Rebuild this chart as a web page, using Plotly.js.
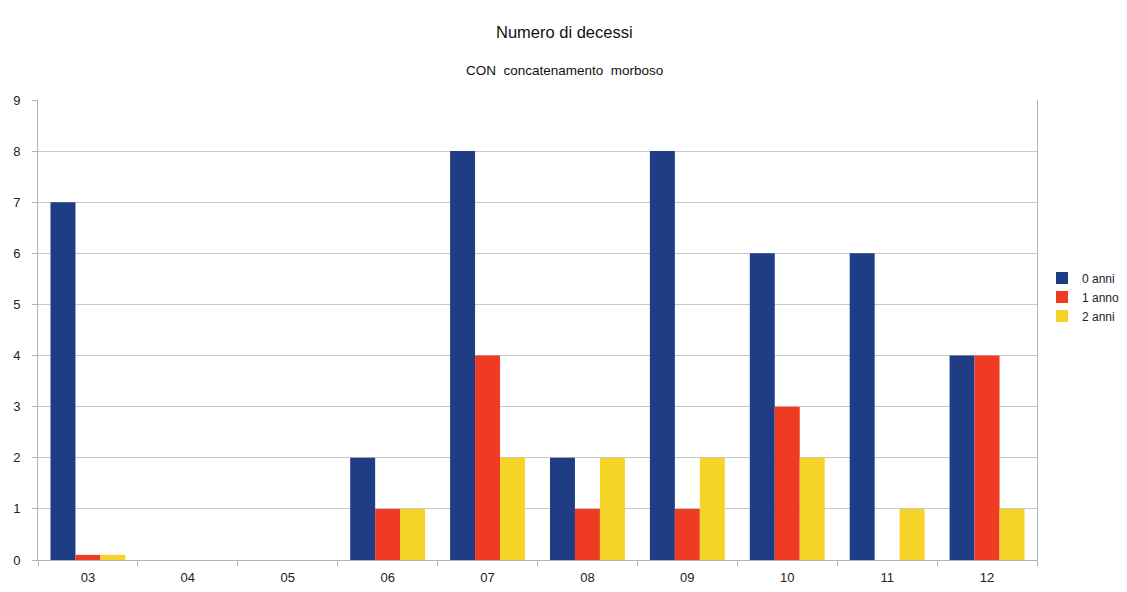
<!DOCTYPE html>
<html>
<head>
<meta charset="utf-8">
<script src="https://cdn.plot.ly/plotly-3.0.1.min.js"></script>
<style>html,body{margin:0;padding:0;background:#fff;}#chart{width:1127px;height:592px;}</style>
</head>
<body>
<div id="chart"></div>
<script>
const categories = ["03", "04", "05", "06", "07", "08", "09", "10", "11", "12"];
const anni0 = [7, 0, 0, 2, 8, 2, 8, 6, 6, 4];
const anno1 = [0.1, 0, 0, 1, 4, 1, 1, 3, 0, 4];
const anni2 = [0.1, 0, 0, 1, 2, 2, 2, 2, 1, 1];
const seriesNames = ["0 anni", "1 anno", "2 anni"];
const colors = ["#1f3d85", "#f03b23", "#f5d327"];

const data = [anni0, anno1, anni2].map((vals, i) => ({
  type: "bar",
  x: categories,
  y: vals,
  name: seriesNames[i],
  marker: {color: colors[i], line: {width: 0}},
  hoverinfo: "x+y+name"
}));

const layout = {
  width: 1127,
  height: 592,
  margin: {l: 38, r: 90, t: 100, b: 32, autoexpand: false},
  paper_bgcolor: "#ffffff",
  plot_bgcolor: "#ffffff",
  font: {family: "Liberation Sans, Arial, sans-serif", size: 12, color: "#222"},
  barmode: "group",
  bargap: 0.25,
  bargroupgap: 0,
  showlegend: true,
  legend: {xref: "container", yref: "container", x: 1042 / 1127, y: 1 - 297 / 592, yanchor: "middle", xanchor: "left", font: {size: 12, color: "#222"}, tracegroupgap: 0, itemwidth: 30},
  xaxis: {
    type: "category",
    tickson: "boundaries",
    ticks: "outside",
    ticklen: 5,
    tickcolor: "#b3b3b3",
    showline: true,
    linecolor: "#b3b3b3",
    linewidth: 1,
    showgrid: false,
    tickfont: {size: 13, color: "#222"},
    ticklabelstandoff: 5,
    fixedrange: true
  },
  yaxis: {
    range: [0, 9],
    dtick: 1,
    ticks: "outside",
    ticklen: 5,
    tickcolor: "#b3b3b3",
    showline: true,
    mirror: true,
    linecolor: "#b3b3b3",
    linewidth: 1,
    gridcolor: "#c8c8c8",
    zeroline: false,
    tickfont: {size: 13, color: "#222"},
    ticklabelstandoff: 9,
    fixedrange: true
  },
  annotations: [
    {text: "Numero di decessi", xref: "paper", yref: "paper", x: 0.527, y: 1, yshift: 68, xanchor: "center", yanchor: "middle", showarrow: false, font: {size: 16.5, color: "#111"}},
    {text: "CON  concatenamento  morboso", xref: "paper", yref: "paper", x: 0.527, y: 1, yshift: 30, xanchor: "center", yanchor: "middle", showarrow: false, font: {size: 13.5, color: "#111"}}
  ]
};

Plotly.newPlot("chart", data, layout, {displayModeBar: false, staticPlot: true});
</script>
</body>
</html>
